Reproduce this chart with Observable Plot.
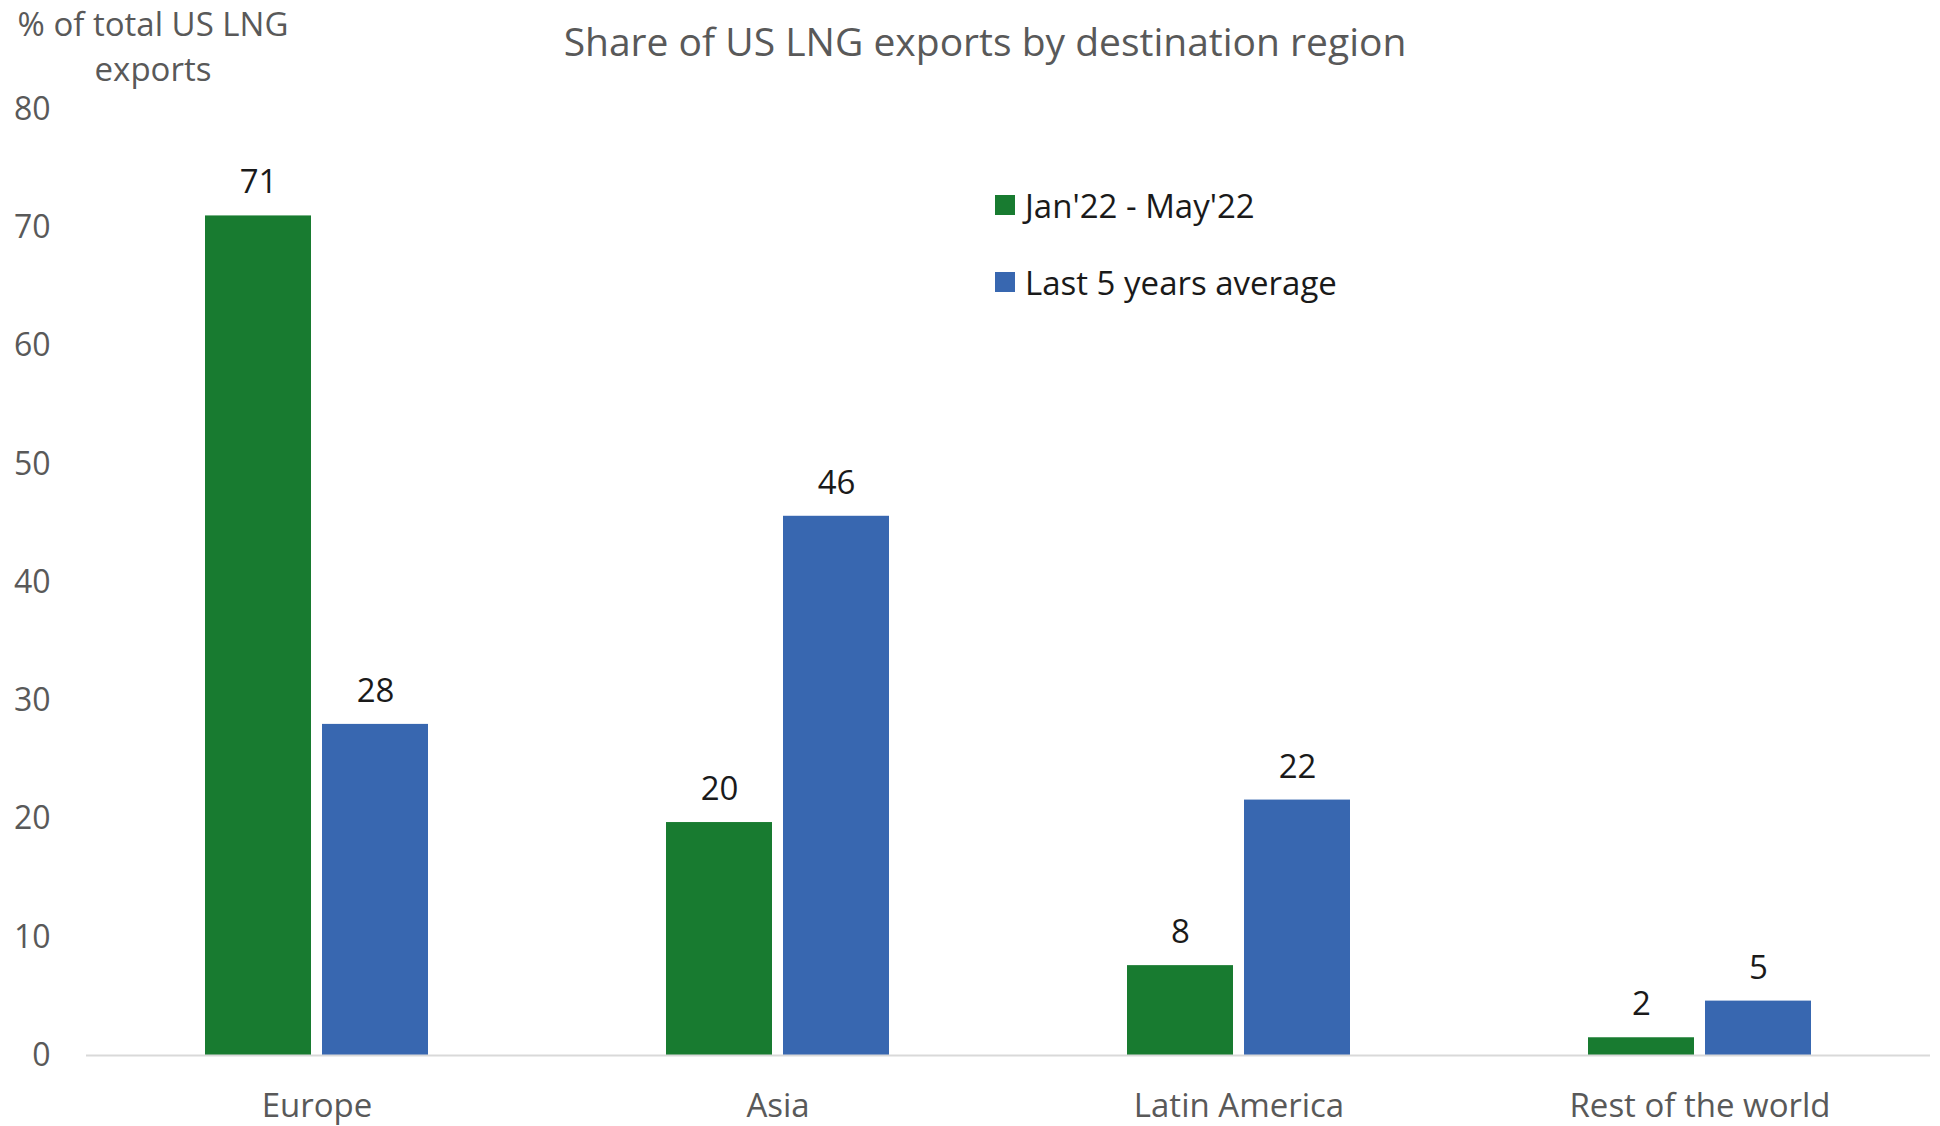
<!DOCTYPE html>
<html>
<head>
<meta charset="utf-8">
<script src="https://cdn.jsdelivr.net/npm/d3@7"></script>
<script src="https://cdn.jsdelivr.net/npm/@observablehq/plot@0.6"></script>
<style>
  html, body { margin: 0; padding: 0; background: #fff; }
  body { width: 1940px; height: 1126px; position: relative; overflow: hidden; font-family: "Open Sans", "Noto Sans", sans-serif; }
  #chart { position: absolute; left: 0; top: 0; }
  .title { position: absolute; left: 0; width: 1970px; top: 14px; text-align: center; font-size: 39px; color: #595959; }
  .ylabel { position: absolute; left: 0; width: 306px; top: 1px; text-align: center; font-size: 33px; line-height: 45px; color: #595959; }
  .legend { position: absolute; left: 995px; top: 180px; font-size: 33px; color: #1a1a1a; }
  .legend .item { display: flex; align-items: center; height: 50px; margin-bottom: 27px; }
  .legend .sw { width: 20px; height: 20px; margin-right: 10px; }
</style>
</head>
<body>
<div id="chart"></div>
<div class="title">Share of US LNG exports by destination region</div>
<div class="ylabel">% of total US LNG<br>exports</div>
<div class="legend" id="legend"></div>
<script>
const regions = ["Europe", "Asia", "Latin America", "Rest of the world"];
const seriesNames = ["Jan'22 - May'22", "Last 5 years average"];
const recentShare = [71.0, 19.7, 7.6, 1.5];
const fiveYearShare = [28.0, 45.6, 21.6, 4.6];
const seriesColors = ["#187b30", "#3867b0"];
const yTicks = [0, 10, 20, 30, 40, 50, 60, 70, 80];

const data = [];
regions.forEach((r, i) => {
  data.push({region: r, series: seriesNames[0], value: recentShare[i]});
  data.push({region: r, series: seriesNames[1], value: fiveYearShare[i]});
});

const chart = Plot.plot({
  width: 1940,
  height: 1126,
  marginLeft: 86,
  marginRight: 10,
  marginTop: 109,
  marginBottom: 71,
  style: {fontFamily: "'Open Sans', 'Noto Sans', sans-serif", background: "#fff"},
  fx: {domain: regions, padding: 0, label: null},
  x: {domain: seriesNames, paddingInner: 0.093, paddingOuter: 1.0, axis: null},
  y: {domain: [0, 80], ticks: yTicks, label: null},
  color: {domain: seriesNames, range: seriesColors},
  marks: [
    Plot.axisY({ticks: yTicks, tickSize: 0, tickPadding: 36, fontSize: 32, color: "#595959", label: null}),
    Plot.axisFx({anchor: "bottom", tickSize: 0, tickPadding: 38, fontSize: 33, color: "#595959", label: null}),
    Plot.barY(data, {fx: "region", x: "series", y: "value", fill: "series"}),
    Plot.ruleY([0], {stroke: "#d9d9d9", strokeWidth: 2}),
    Plot.text(data, {fx: "region", x: "series", y: "value", text: d => d3.format(".0f")(d.value), dy: -33, fontSize: 33, fill: "#1a1a1a"})
  ]
});
document.getElementById("chart").appendChild(chart);

const legend = document.getElementById("legend");
seriesNames.forEach((s, i) => {
  const item = document.createElement("div");
  item.className = "item";
  const sw = document.createElement("div");
  sw.className = "sw";
  sw.style.background = seriesColors[i];
  const label = document.createElement("span");
  label.textContent = s;
  item.appendChild(sw);
  item.appendChild(label);
  legend.appendChild(item);
});
</script>
</body>
</html>
